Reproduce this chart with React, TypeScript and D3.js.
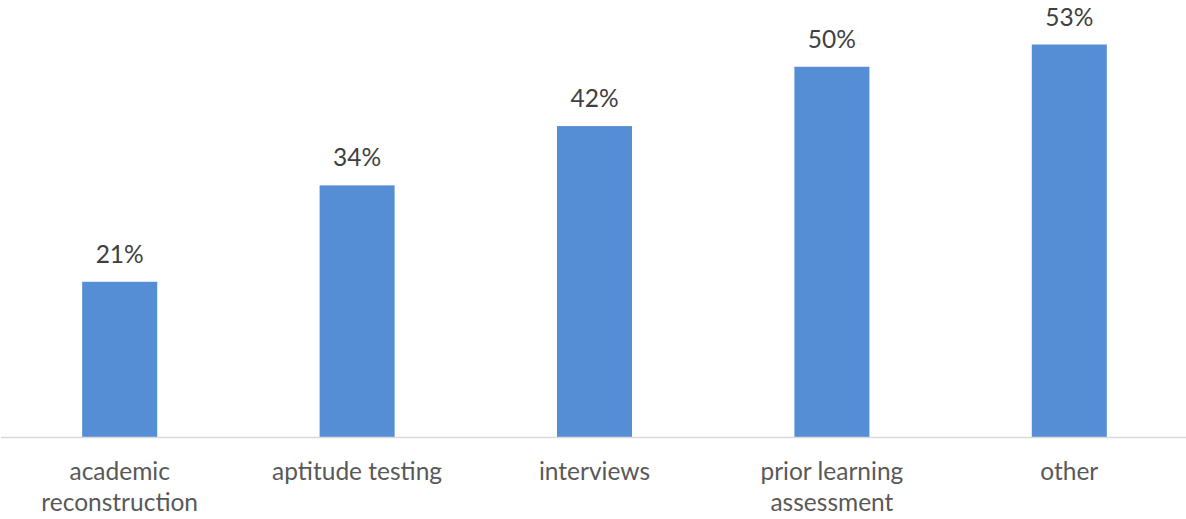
import * as d3 from "d3"
import { useRef, useEffect } from "react"

const categories = [
  ["academic", "reconstruction"],
  ["aptitude testing"],
  ["interviews"],
  ["prior learning", "assessment"],
  ["other"],
]
const values = [0.21, 0.34, 0.42, 0.5, 0.53]

const width = 1186
const height = 519
const baseline = 437.5

const App = () => {
  const svgRef = useRef<SVGSVGElement>(null)

  useEffect(() => {
    document.body.style.margin = "0"
    const svg = d3.select(svgRef.current).attr("width", width).attr("height", height)
    svg.selectAll("*").remove()

    const keys = categories.map((c) => c.join(" "))
    const x = d3.scaleBand().domain(keys).range([1, 1188]).paddingInner(0.684).paddingOuter(0.342)
    const y = d3.scaleLinear().domain([0, 0.6]).range([baseline, baseline - 0.6 * 741.5])

    // bars
    svg
      .selectAll("rect.bar")
      .data(values)
      .join("rect")
      .attr("class", "bar")
      .attr("x", (d, i) => x(keys[i])!)
      .attr("y", (d) => y(d))
      .attr("width", x.bandwidth())
      .attr("height", (d) => baseline - y(d))
      .attr("fill", "#558ed5")

    // axis line
    svg
      .append("line")
      .attr("x1", 1)
      .attr("x2", width)
      .attr("y1", baseline)
      .attr("y2", baseline)
      .attr("stroke", "#d9d9d9")
      .attr("stroke-width", 1.5)

    // value labels
    svg
      .selectAll("text.val")
      .data(values)
      .join("text")
      .attr("class", "val")
      .attr("x", (d, i) => x(keys[i])! + x.bandwidth() / 2)
      .attr("y", (d) => y(d) - 19)
      .attr("text-anchor", "middle")
      .attr("font-family", "Lato")
      .attr("font-size", "24.5px")
      .attr("fill", "#404040")
      .text((d) => d3.format(".0%")(d))

    // category labels
    const cat = svg
      .selectAll("text.cat")
      .data(categories)
      .join("text")
      .attr("class", "cat")
      .attr("text-anchor", "middle")
      .attr("font-family", "Lato")
      .attr("font-size", "24.5px")
      .attr("fill", "#595959")
    cat
      .selectAll("tspan")
      .data((d, i) => d.map((line) => ({ line, i })))
      .join("tspan")
      .attr("x", (d) => x(keys[d.i])! + x.bandwidth() / 2)
      .attr("y", (d, j) => 480 + j * 31)
      .text((d) => d.line)
  }, [])

  return <svg ref={svgRef}></svg>
}

export default App
